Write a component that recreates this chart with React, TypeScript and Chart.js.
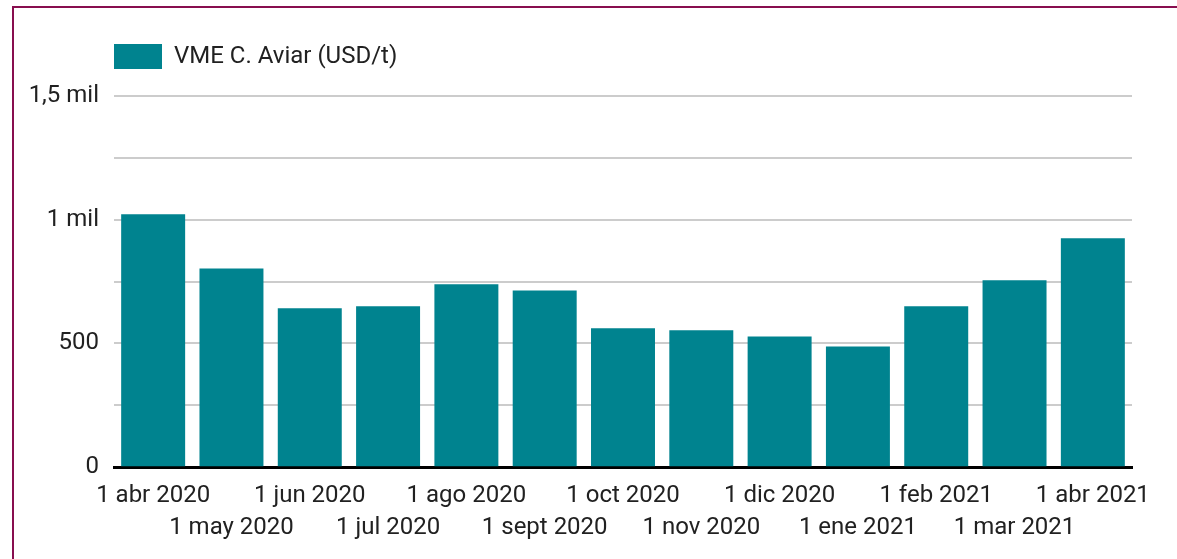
import React, { useEffect, useRef } from "react";
import { Chart, registerables } from "chart.js";

Chart.register(...registerables);

const categories: string[] = [
  "1 abr 2020",
  "1 may 2020",
  "1 jun 2020",
  "1 jul 2020",
  "1 ago 2020",
  "1 sept 2020",
  "1 oct 2020",
  "1 nov 2020",
  "1 dic 2020",
  "1 ene 2021",
  "1 feb 2021",
  "1 mar 2021",
  "1 abr 2021",
];

const seriesName = "VME C. Aviar (USD/t)";
const values: number[] = [1022, 803, 642, 650, 739, 714, 561, 553, 528, 488, 650, 755, 925];

const yTickValues: number[] = [0, 500, 1000, 1500];
const yTickLabels: string[] = ["0", "500", "1 mil", "1,5 mil"];

const W = 1177;
const H = 559;

export default function App() {
  const ref = useRef<HTMLCanvasElement | null>(null);

  useEffect(() => {
    if (!ref.current) return;
    const chart = new Chart(ref.current, {
      type: "bar",
      data: {
        labels: categories,
        datasets: [
          {
            label: seriesName,
            data: values,
            backgroundColor: "#00838F",
            borderWidth: 0,
            categoryPercentage: 1,
            barPercentage: 0.817,
          },
        ],
      },
      options: {
        animation: false,
        responsive: false,
        devicePixelRatio: 1,
        font: { family: "Roboto", size: 24 },
        layout: { padding: { left: 14, right: 45, top: 44, bottom: 2 } },
        plugins: {
          tooltip: { enabled: false },
          legend: {
            display: true,
            position: "top",
            align: "start",
            fullSize: false,
            labels: {
              boxWidth: 48,
              boxHeight: 25,
              padding: 0,
              color: "#212121",
              font: { family: "Roboto", size: 24 },
            },
          },
          subtitle: {
            display: true,
            text: "",
            weight: 500,
            padding: 0,
            fullSize: false,
            font: { size: 17, lineHeight: 1 },
          },
        },
        scales: {
          x: {
            grid: { display: false, drawTicks: false },
            border: { display: true, color: "#000000", width: 3 },
            ticks: {
              autoSkip: false,
              maxRotation: 0,
              minRotation: 0,
              padding: 13,
              color: "#212121",
              font: { family: "Roboto", size: 24, lineHeight: 1.33 },
              callback: (_v: any, i: number) =>
                i % 2 === 0 ? [categories[i], ""] : ["", categories[i]],
            },
          },
          y: {
            min: 0,
            max: 1500,
            afterFit: (scale: any) => {
              scale.width = 100;
            },
            grid: { color: "#cccccc", lineWidth: 2, drawTicks: false },
            border: { display: false },
            ticks: {
              stepSize: 250,
              padding: 15,
              color: "#212121",
              font: { family: "Roboto", size: 24 },
              callback: (v: any) => {
                const k = yTickValues.indexOf(Number(v));
                return k >= 0 ? yTickLabels[k] : "";
              },
            },
          },
        },
      },
    });
    return () => chart.destroy();
  }, []);

  return (
    <div style={{ position: "fixed", left: 0, top: 0, width: W, height: H, background: "#ffffff", overflow: "hidden" }}>
      <div
        style={{
          position: "absolute",
          left: 12,
          top: 6,
          width: W + 40,
          height: H + 40,
          borderLeft: "2px solid #880E4F",
          borderTop: "2px solid #880E4F",
        }}
      />
      <canvas ref={ref} width={W} height={H} style={{ position: "absolute", left: 0, top: 0, width: W, height: H }} />
    </div>
  );
}
